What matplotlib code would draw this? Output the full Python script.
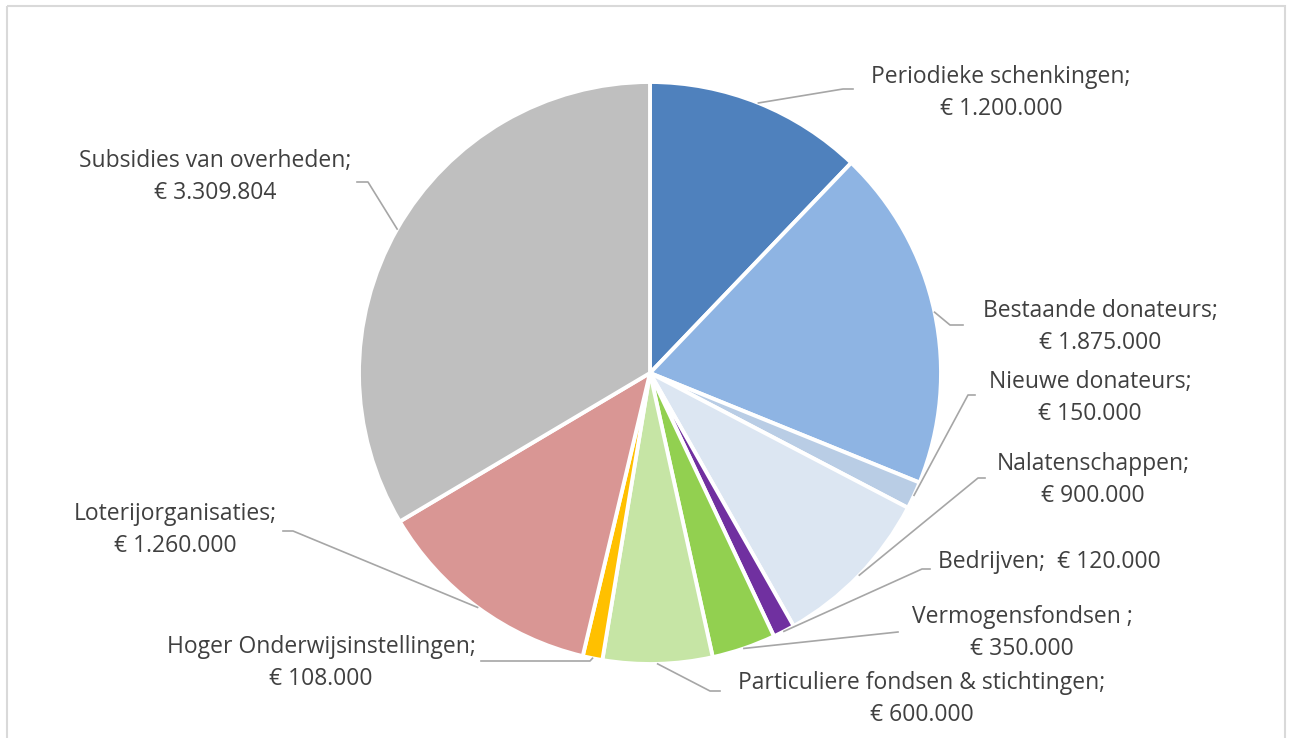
import numpy as np
import matplotlib.pyplot as plt
from matplotlib.patches import Rectangle

plt.rcParams['font.family'] = ['Open Sans', 'DejaVu Sans']

categories = ['Periodieke schenkingen', 'Bestaande donateurs', 'Nieuwe donateurs',
              'Nalatenschappen', 'Bedrijven', 'Vermogensfondsen ', 'Particuliere fondsen & stichtingen',
              'Hoger Onderwijsinstellingen', 'Loterijorganisaties', 'Subsidies van overheden']
values = [1200000, 1875000, 150000, 900000, 120000, 350000, 600000, 108000, 1260000, 3309804]
colors = ['#4F81BD', '#8EB4E3', '#B9CDE5', '#DCE6F2', '#7030A0', '#92D050', '#C6E5A5',
          '#FFC000', '#D99694', '#BFBFBF']

# layout in pixel coordinates (y from top)
W, H = 1289, 738
center = (650, 373)
radius = 291
# text centre, elbow of leader line, end of leader line
text_pos = [(1001, 93), (1100, 327), (1090, 398), (1093, 480), (1049, 562), (1022, 633),
            (922, 699), (321, 663), (175, 530), (215, 177)]
elbows = [(843, 89), (950, 325), (968, 395), (978, 478), (922, 569), (898, 632),
          (710, 691), (590, 661), (293, 531), (368, 182)]
ends = [853, 963, 975, 985, 930, 898, 720, 481, 283, 357]

fig = plt.figure(figsize=(W / 100, H / 100), dpi=100)
ax = fig.add_axes([0, 0, 1, 1])

wedges, _ = ax.pie(values, colors=colors, startangle=-90, counterclock=True,
                   center=center, radius=radius,
                   wedgeprops=dict(edgecolor='white', linewidth=2.8))
ax.set_xlim(0, W)
ax.set_ylim(H, 0)
ax.set_aspect('equal')
ax.axis('off')

txt_color = '#404040'
line_color = '#A6A6A6'
for i, w in enumerate(wedges):
    mid = np.deg2rad((w.theta1 + w.theta2) / 2)
    ax_x = center[0] + radius * np.cos(mid)
    ax_y = center[1] + radius * np.sin(mid)
    ex, ey = elbows[i]
    ax.plot([ax_x, ex, ends[i]], [ax_y, ey, ey], color=line_color, lw=1.2, zorder=1)

    money = '€ ' + f'{values[i]:,}'.replace(',', '.')
    if categories[i] == 'Bedrijven':
        label = categories[i] + ';  ' + money
    else:
        label = categories[i] + ';\n' + money
    tx, ty = text_pos[i]
    ax.text(tx, ty, label, ha='center', va='center', fontsize=16.5,
            color=txt_color, linespacing=1.4)

# chart area border
ax.add_patch(Rectangle((7, 6), 1278, 760, fill=False, edgecolor='#D9D9D9', lw=1.5,
                       clip_on=False))

fig.savefig('out.png', dpi=100)
